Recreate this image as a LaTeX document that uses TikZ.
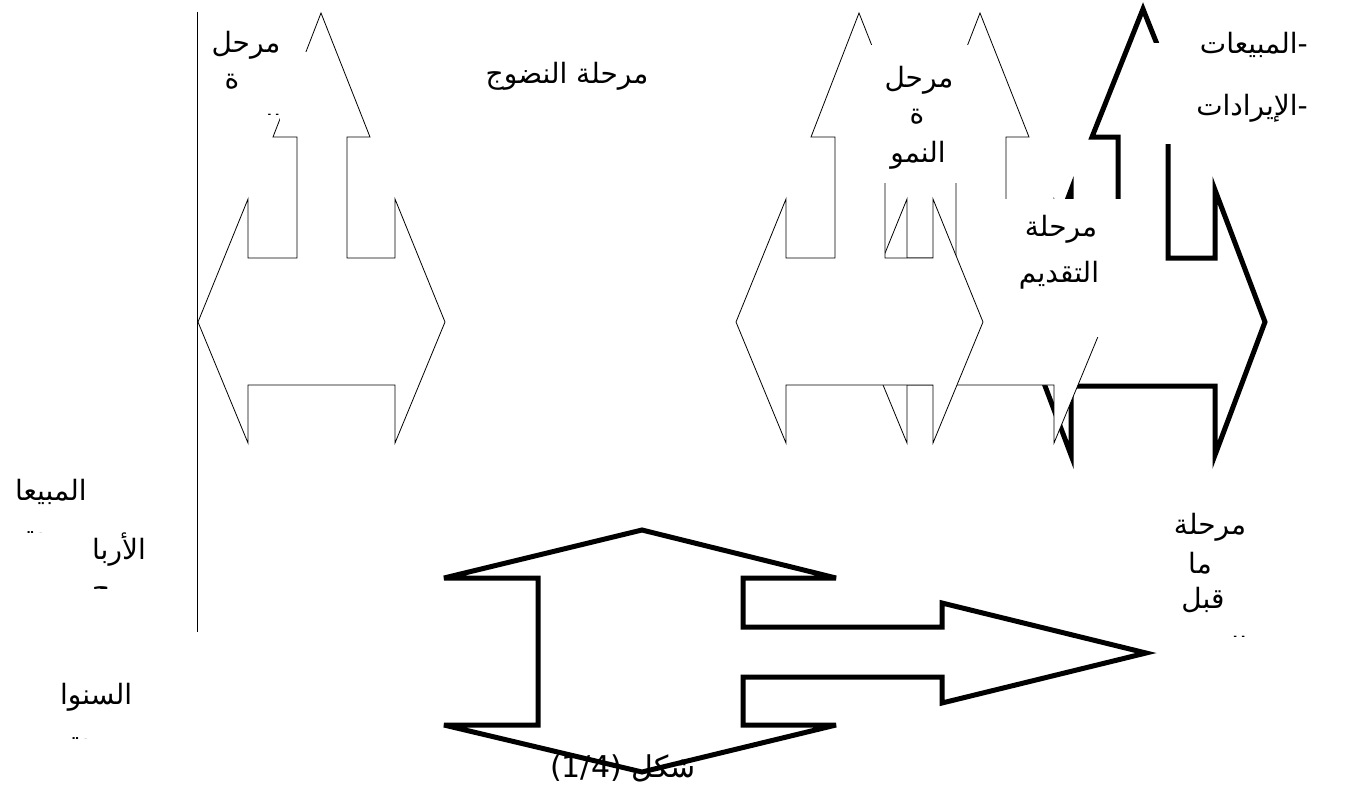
\documentclass[tikz,border=0pt]{standalone}
\usepackage{fontspec}
\newfontfamily\arabicfont[Script=Arabic]{DejaVu Sans}
\TeXXeTstate=1
\newcommand\tripleArrow[2]{%
  \draw[thinshape,shift={(#1,0)}] (321,13) -- (370,137) -- (347,137) -- (347,258) -- (395,258) -- (395,199) -- (445,322) -- (395,443) -- (395,385) -- (248,385) -- (248,443) -- (198,322) -- (248,199) -- (248,258) -- (297,258) -- (297,137) -- (273,137) -- cycle;
  \coordinate (#2) at (321+#1,322);}
\begin{document}
\begin{tikzpicture}[x=1pt,y=-1pt,
  thinshape/.style={draw=black,line width=0.8pt,fill=white,line join=miter},
  heavyshape/.style={draw=black,line width=5pt,fill=white,line join=miter,miter limit=6},
  hide/.style={fill=white,draw=none},
  lbl/.style={font=\arabicfont\fontsize{28}{32}\selectfont,inner sep=0pt},
  captionlbl/.style={font=\arabicfont\fontsize{30}{34}\selectfont,inner sep=0pt}]
\useasboundingbox (0,0) rectangle (1350,788);
% axis line
\coordinate (axtop) at (197,12);
\coordinate (axbot) at (197,632);
\draw[line width=0.8pt] (axtop) -- (axbot);
% left shape
\tripleArrow{0}{A}
% heavy right shape
\draw[heavyshape] (1143,9) -- (1194,137) -- (1168,137) -- (1168,258) -- (1215,258) -- (1215,190) -- (1265,322) -- (1215,455) -- (1215,386) -- (1071,386) -- (1071,455) -- (1021,322) -- (1071,190) -- (1071,258) -- (1118,258) -- (1118,137) -- (1092,137) -- cycle;
\coordinate (D) at (1143,322);
% second middle shape
\tripleArrow{659}{C}
\fill[hide] (957,199) rectangle (1140,337);
% first middle shape
\tripleArrow{538}{B}
\fill[hide] (870,45) rectangle (968,183);
\fill[hide] (280,52) rectangle (312,122);
\fill[hide] (1152,43) rectangle (1330,144);
% bottom heavy shape
\draw[heavyshape] (642,530) -- (836,578) -- (743,578) -- (743,627) -- (942,627) -- (942,603) -- (1146,653) -- (942,703) -- (942,677) -- (743,677) -- (743,725) -- (836,725) -- (642,772) -- (444,725) -- (538,725) -- (538,578) -- (444,578) -- cycle;
\coordinate (E) at (642,652);
% labels
\node[lbl] (t1a) at (246,45) {\beginR مرحل\endR};
\node[lbl] (t1b) at (232,82) {\beginR ة\endR};
\begin{scope}
  \clip (200,95) rectangle (330,114);
  \node[lbl] (t1c) at (240,128) {\beginR التدهور\endR};
\end{scope}
\node[lbl] (t2) at (567,76) {\beginR مرحلة النضوج\endR};
\node[lbl] (t3a) at (919,80) {\beginR مرحل\endR};
\node[lbl] (t3b) at (917,117) {\beginR ة\endR};
\node[lbl] (t3c) at (918,155) {\beginR النمو\endR};
\node[lbl] (t4a) at (1061,229) {\beginR مرحلة\endR};
\node[lbl] (t4b) at (1059,275) {\beginR التقديم\endR};
\node[lbl,anchor=east] (t5a) at (1308,45) {\beginR -المبيعات\endR};
\node[lbl,anchor=east] (t5b) at (1308,108) {\beginR -الإيرادات\endR};
\node[lbl,anchor=west] (t6a) at (15,492) {\beginR المبيعا\endR};
\begin{scope}
  \clip (0,515) rectangle (100,532);
  \node[lbl,anchor=west] (t6b) at (18,537) {\beginR ت\endR};
\end{scope}
\node[lbl,anchor=west] (t7a) at (92,550) {\beginR الأربا\endR};
\begin{scope}
  \clip (60,575) rectangle (160,588);
  \node[lbl,anchor=west] (t7b) at (92,596) {\beginR ح\endR};
\end{scope}
\node[lbl,anchor=west] (t8a) at (60,697) {\beginR السنوا\endR};
\begin{scope}
  \clip (40,720) rectangle (150,738);
  \node[lbl,anchor=west] (t8b) at (63,743) {\beginR ت\endR};
\end{scope}
\node[lbl] (t9a) at (1210,527) {\beginR مرحلة\endR};
\node[lbl] (t9b) at (1200,563) {\beginR ما\endR};
\node[lbl] (t9c) at (1203,600) {\beginR قبل\endR};
\begin{scope}
  \clip (1140,620) rectangle (1280,636);
  \node[lbl] (t9d) at (1207,650) {\beginR التقديم\endR};
\end{scope}
\node[captionlbl] (caption) at (623,768) {\beginR شكل \beginL(1/4)\endL\endR};
\end{tikzpicture}
\end{document}
